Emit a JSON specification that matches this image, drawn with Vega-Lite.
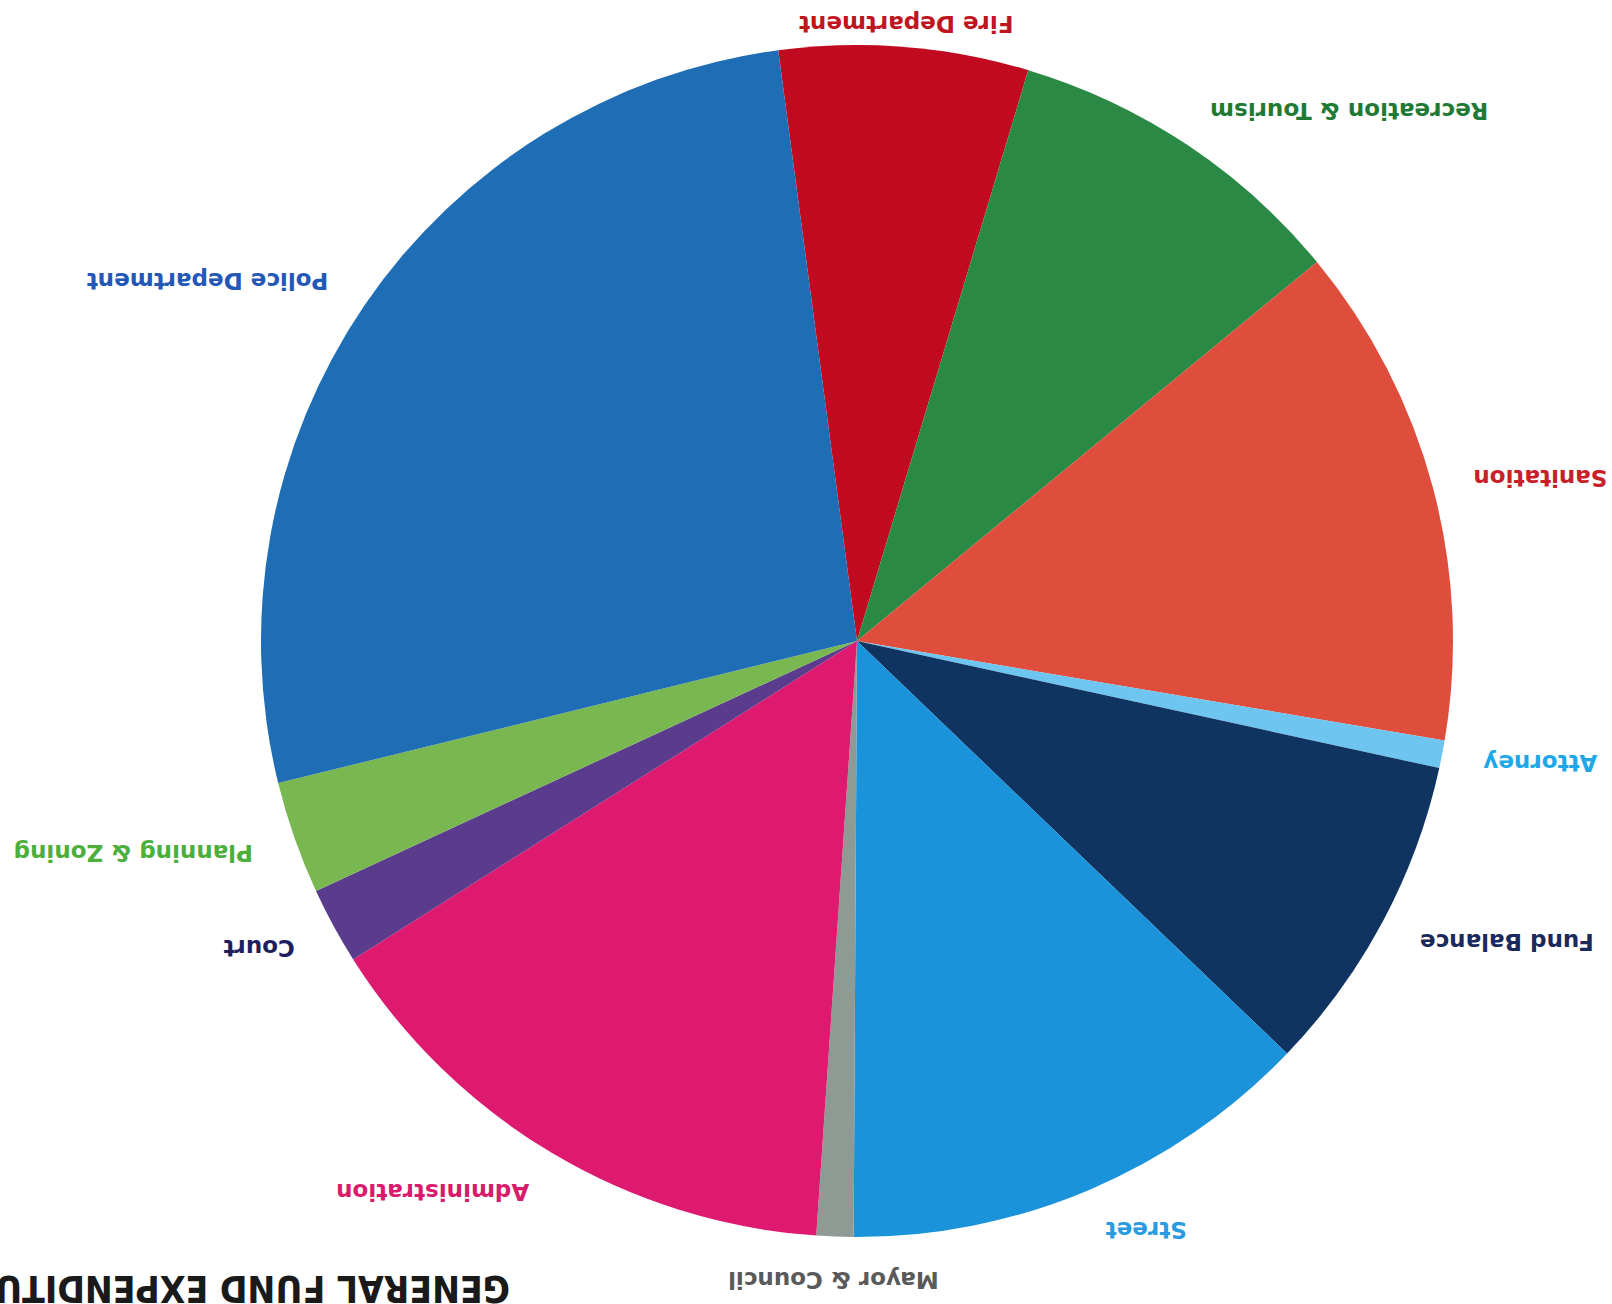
{
  "$schema": "https://vega.github.io/schema/vega-lite/v6.json",
  "width": 1510,
  "height": 1282,
  "autosize": {"type": "none"},
  "padding": {"left": 102, "top": 0, "right": 0, "bottom": 22},
  "background": "white",
  "view": {"stroke": null},
  "title": {
    "text": "GENERAL FUND EXPENDITURES",
    "orient": "bottom",
    "anchor": "start",
    "frame": "group",
    "angle": 180,
    "align": "left",
    "baseline": "alphabetic",
    "font": "Liberation Sans Narrow, DejaVu Sans Condensed, sans-serif",
    "fontSize": 37,
    "fontWeight": "bold",
    "color": "#1a1a1a",
    "offset": 0,
    "dx": -408,
    "dy": 16
  },
  "data": {
    "values": [
      {"idx": 1, "dept": "Fire Department", "share": 6.75},
      {"idx": 2, "dept": "Recreation & Tourism", "share": 9.39},
      {"idx": 3, "dept": "Sanitation", "share": 13.64},
      {"idx": 4, "dept": "Attorney", "share": 0.75},
      {"idx": 5, "dept": "Fund Balance", "share": 8.75},
      {"idx": 6, "dept": "Street", "share": 12.92},
      {"idx": 7, "dept": "Mayor & Council", "share": 1.0},
      {"idx": 8, "dept": "Administration", "share": 14.94},
      {"idx": 9, "dept": "Court", "share": 2.08},
      {"idx": 10, "dept": "Planning & Zoning", "share": 3.06},
      {"idx": 11, "dept": "Police Department", "share": 26.72}
    ]
  },
  "encoding": {
    "theta": {"field": "share", "type": "quantitative", "stack": true, "scale": {"range": [-0.1326, 6.1506]}},
    "order": {"field": "idx", "type": "quantitative"}
  },
  "layer": [
    {
      "mark": {"type": "arc", "outerRadius": 596, "stroke": null},
      "encoding": {
        "color": {
          "field": "dept", "type": "nominal", "legend": null,
          "scale": {
            "domain": ["Fire Department", "Recreation & Tourism", "Sanitation", "Attorney", "Fund Balance", "Street", "Mayor & Council", "Administration", "Court", "Planning & Zoning", "Police Department"],
            "range": ["#C10A1F", "#2A8A45", "#DF4E3C", "#6EC5F0", "#0F3461", "#1B93DA", "#8E9A94", "#DD1A70", "#5B3C8C", "#79B751", "#1F6DB5"]
          }
        }
      }
    },
    {
      "mark": {"type": "text", "radius": 638, "align": "right", "baseline": "middle", "angle": 180, "font": "DejaVu Sans", "fontWeight": "bold", "fontSize": 23},
      "encoding": {
        "text": {"condition": {"test": "indexof(['Recreation & Tourism','Sanitation','Attorney','Fund Balance','Street'], datum.dept) >= 0", "field": "dept"}, "value": ""},
        "fill": {"field": "dept", "type": "nominal", "legend": null, "scale": {
          "domain": ["Fire Department", "Recreation & Tourism", "Sanitation", "Attorney", "Fund Balance", "Street", "Mayor & Council", "Administration", "Court", "Planning & Zoning", "Police Department"],
          "range": ["#C0141F", "#1E7A34", "#C8202B", "#1EA8E8", "#1A2A5C", "#2A9BE0", "#5A5A5A", "#D81B6A", "#1F1F5E", "#4CAF3C", "#2358B8"]
        }}
      }
    },
    {
      "mark": {"type": "text", "radius": 640, "align": "left", "baseline": "middle", "angle": 180, "font": "DejaVu Sans", "fontWeight": "bold", "fontSize": 23},
      "encoding": {
        "text": {"condition": {"test": "indexof(['Administration','Court','Planning & Zoning','Police Department'], datum.dept) >= 0", "field": "dept"}, "value": ""},
        "fill": {"field": "dept", "type": "nominal", "legend": null}
      }
    },
    {
      "mark": {"type": "text", "radius": 620, "align": "center", "baseline": "middle", "angle": 180, "font": "DejaVu Sans", "fontWeight": "bold", "fontSize": 23},
      "encoding": {
        "text": {"condition": {"test": "datum.dept == 'Fire Department'", "field": "dept"}, "value": ""},
        "fill": {"field": "dept", "type": "nominal", "legend": null}
      }
    },
    {
      "mark": {"type": "text", "radius": 638, "align": "center", "baseline": "middle", "angle": 180, "font": "DejaVu Sans", "fontWeight": "bold", "fontSize": 23},
      "encoding": {
        "text": {"condition": {"test": "datum.dept == 'Mayor & Council'", "field": "dept"}, "value": ""},
        "fill": {"field": "dept", "type": "nominal", "legend": null}
      }
    }
  ]
}
